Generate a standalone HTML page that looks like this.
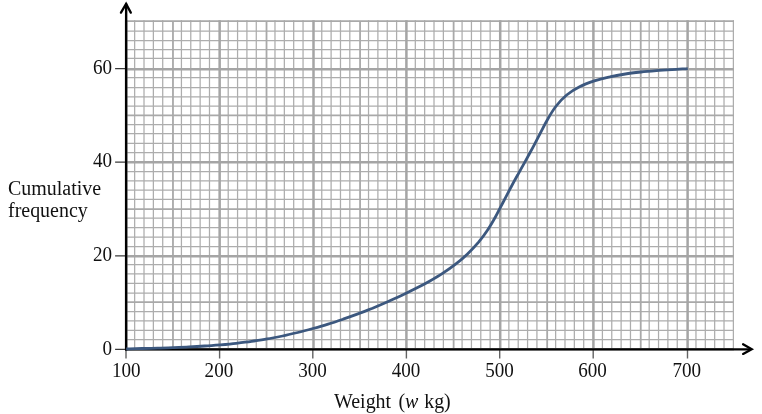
<!DOCTYPE html>
<html><head><meta charset="utf-8"><title>Cumulative frequency</title>
<style>
html,body{margin:0;padding:0;background:#fff;}
body{width:762px;height:414px;overflow:hidden;}
svg{display:block;will-change:transform;}
text{font-family:"Liberation Serif",serif;font-size:20.8px;fill:#111;}
</style></head><body>
<svg width="762" height="414" viewBox="0 0 762 414">
<rect width="762" height="414" fill="#fff"/>
<path d="M134.66 20.20V349.20M144.01 20.20V349.20M153.37 20.20V349.20M162.72 20.20V349.20M181.43 20.20V349.20M190.78 20.20V349.20M200.14 20.20V349.20M209.49 20.20V349.20M228.21 20.20V349.20M237.56 20.20V349.20M246.91 20.20V349.20M256.27 20.20V349.20M274.98 20.20V349.20M284.34 20.20V349.20M293.69 20.20V349.20M303.05 20.20V349.20M321.76 20.20V349.20M331.11 20.20V349.20M340.47 20.20V349.20M349.82 20.20V349.20M368.53 20.20V349.20M377.89 20.20V349.20M387.24 20.20V349.20M396.60 20.20V349.20M415.31 20.20V349.20M424.66 20.20V349.20M434.01 20.20V349.20M443.37 20.20V349.20M462.08 20.20V349.20M471.44 20.20V349.20M480.79 20.20V349.20M490.15 20.20V349.20M508.86 20.20V349.20M518.21 20.20V349.20M527.57 20.20V349.20M536.92 20.20V349.20M555.63 20.20V349.20M564.99 20.20V349.20M574.34 20.20V349.20M583.70 20.20V349.20M602.41 20.20V349.20M611.76 20.20V349.20M621.12 20.20V349.20M630.47 20.20V349.20M649.18 20.20V349.20M658.54 20.20V349.20M667.89 20.20V349.20M677.25 20.20V349.20M695.96 20.20V349.20M705.31 20.20V349.20M714.67 20.20V349.20M724.02 20.20V349.20M733.38 20.20V349.20M126.20 339.60H733.93M126.20 330.40H733.93M126.20 320.90H733.93M126.20 311.60H733.93M126.20 293.10H733.93M126.20 283.30H733.93M126.20 273.90H733.93M126.20 264.60H733.93M126.20 246.70H733.93M126.20 237.20H733.93M126.20 227.50H733.93M126.20 218.10H733.93M126.20 199.30H733.93M126.20 190.10H733.93M126.20 180.90H733.93M126.20 171.70H733.93M126.20 152.55H733.93M126.20 143.40H733.93M126.20 133.70H733.93M126.20 124.60H733.93M126.20 106.00H733.93M126.20 96.80H733.93M126.20 87.50H733.93M126.20 77.70H733.93M126.20 58.40H733.93M126.20 49.50H733.93M126.20 40.50H733.93M126.20 31.00H733.93" stroke="#adadad" stroke-width="1.25" fill="none"/>
<path d="M172.97 20.20V349.20M266.52 20.20V349.20M360.07 20.20V349.20M453.62 20.20V349.20M547.18 20.20V349.20M640.73 20.20V349.20M126.20 302.20H733.93M126.20 209.05H733.93M126.20 115.30H733.93M126.20 21.20H733.93" stroke="#a9a9a9" stroke-width="1.8" fill="none"/>
<path d="M126.15 20.20V349.20M219.65 20.20V349.20M313.50 20.20V349.20M406.40 20.20V349.20M500.20 20.20V349.20M593.40 20.20V349.20M687.60 20.20V349.20M126.20 349.30H733.93M126.20 256.15H733.93M126.20 162.30H733.93M126.20 69.30H733.93" stroke="#a5a5a5" stroke-width="2.5" fill="none"/>
<path d="M126.00 350V358.6M219.60 350V358.6M312.80 350V358.6M406.40 350V358.6M499.70 350V358.6M593.20 350V358.6M687.50 350V358.6" stroke="#636363" stroke-width="1.4" fill="none"/>
<path d="M115.1 349.35H126M115.1 255.80H126M115.1 162.20H126M115.1 68.60H126" stroke="#3a3a3a" stroke-width="1.2" fill="none"/>
<path d="M126.15 350.5V3.5" stroke="#000" stroke-width="2.4" fill="none"/>
<path d="M125 349.35H751" stroke="#000" stroke-width="2.3" fill="none"/>
<path d="M120.95 12.65L126.1 3.95L130.8 12.65" stroke="#000" stroke-width="2.3" fill="none" stroke-linecap="round" stroke-linejoin="miter"/>
<path d="M743.1 344.3L751.7 349.15L743.1 353.9" stroke="#000" stroke-width="2.3" fill="none" stroke-linecap="round" stroke-linejoin="miter"/>
<path d="M126.2 348.8C128.8 348.8 136.6 348.6 141.9 348.5C147.1 348.4 152.4 348.3 157.6 348.1C162.9 348.0 168.1 347.8 173.4 347.6C178.6 347.4 183.9 347.2 189.1 346.9C194.4 346.7 199.6 346.4 204.8 346.0C210.0 345.7 215.3 345.3 220.5 344.9C225.7 344.4 230.9 343.9 236.1 343.3C241.3 342.7 246.5 342.1 251.6 341.4C256.8 340.6 262.0 339.8 267.1 338.9C272.3 338.0 277.4 337.0 282.5 336.0C287.6 334.9 292.7 333.7 297.8 332.5C302.9 331.3 308.0 329.9 313.0 328.5C318.1 327.1 323.1 325.7 328.1 324.1C333.1 322.6 338.1 320.9 343.1 319.2C348.0 317.5 353.0 315.7 357.9 313.9C362.8 312.1 367.7 310.1 372.6 308.2C377.4 306.2 382.3 304.1 387.1 302.0C391.9 299.9 396.7 297.7 401.5 295.5C406.2 293.3 411.0 291.0 415.6 288.6C420.3 286.3 425.0 283.9 429.5 281.3C434.1 278.7 438.6 276.1 442.9 273.2C447.3 270.3 451.5 267.4 455.6 264.2C459.7 261.0 463.7 257.6 467.5 253.9C471.3 250.3 475.0 246.4 478.4 242.4C481.7 238.3 484.9 234.1 487.8 229.7C490.7 225.4 493.2 220.8 495.8 216.3C498.3 211.8 500.5 207.1 503.0 202.5C505.4 197.9 507.8 193.2 510.2 188.6C512.7 184.0 515.2 179.3 517.8 174.8C520.3 170.2 522.8 165.7 525.4 161.1C527.9 156.5 530.4 152.0 532.9 147.4C535.4 142.8 537.8 138.0 540.2 133.3C542.7 128.6 545.0 123.7 547.7 119.2C550.3 114.6 553.0 110.0 556.2 106.0C559.3 101.9 562.8 98.2 566.7 95.0C570.6 91.8 575.0 89.1 579.6 86.8C584.3 84.4 589.3 82.6 594.3 80.9C599.3 79.3 604.6 78.0 609.8 76.9C614.9 75.7 620.1 74.8 625.3 74.0C630.5 73.2 635.7 72.6 640.9 72.0C646.1 71.4 651.3 71.0 656.5 70.6C661.7 70.2 666.9 69.9 672.1 69.6C677.3 69.2 685.2 68.8 687.8 68.6" stroke="#3c587f" stroke-width="2.8" fill="none" stroke-linecap="butt" stroke-linejoin="round"/>
<text transform="translate(126.3 376.7) scale(0.918 1)" text-anchor="middle">100</text><text transform="translate(218.9 376.7) scale(0.918 1)" text-anchor="middle">200</text><text transform="translate(312.5 376.7) scale(0.918 1)" text-anchor="middle">300</text><text transform="translate(406.0 376.7) scale(0.918 1)" text-anchor="middle">400</text><text transform="translate(499.6 376.7) scale(0.918 1)" text-anchor="middle">500</text><text transform="translate(592.6 376.7) scale(0.918 1)" text-anchor="middle">600</text><text transform="translate(686.8 376.7) scale(0.918 1)" text-anchor="middle">700</text><text transform="translate(112.1 354.5) scale(0.918 1)" text-anchor="end">0</text><text transform="translate(112.1 260.9) scale(0.918 1)" text-anchor="end">20</text><text transform="translate(112.1 167.3) scale(0.918 1)" text-anchor="end">40</text><text transform="translate(112.1 73.7) scale(0.918 1)" text-anchor="end">60</text>
<text transform="translate(8 194.7) scale(0.96 1)">Cumulative</text>
<text transform="translate(8 216.9) scale(0.96 1)">frequency</text>
<text transform="translate(334 408.4) scale(0.96 1)">Weight<tspan dx="7.6">(</tspan><tspan font-style="italic">w</tspan><tspan dx="6.0">kg)</tspan></text>
</svg>
</body></html>
